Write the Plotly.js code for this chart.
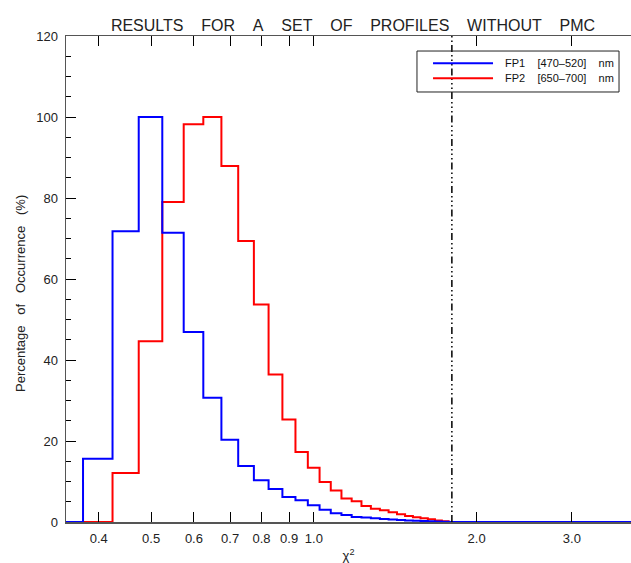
<!DOCTYPE html>
<html>
<head>
<meta charset="utf-8">
<script src="https://cdn.plot.ly/plotly-3.0.1.min.js"></script>
<style>html,body{margin:0;padding:0;background:#fff;}#chart{width:631px;height:563px;}</style>
</head>
<body>
<div id="chart"></div>
<script>
// Bin centres of the chi-square histogram (bin width 0.05)
const chi2 = [0.30, 0.35, 0.40, 0.45, 0.50, 0.55, 0.60, 0.65, 0.70, 0.75, 0.80, 0.85, 0.90, 0.95,
              1.00, 1.05, 1.10, 1.15, 1.20, 1.25, 1.30, 1.35, 1.40, 1.45, 1.50, 1.55, 1.60, 1.65,
              1.70, 1.75, 1.80, 1.85, 4.00];
// FP1 [470-520] nm occurrence (%)
const fp1 = [0, 0, 15.6, 71.8, 100, 71.4, 46.9, 30.7, 20.3, 13.8, 10.3, 8.15, 6.2, 5.36,
             4.12, 3.05, 2.15, 1.73, 1.24, 1.1, 0.9, 0.75, 0.6, 0.5, 0.4, 0.3, 0.25, 0.2,
             0.1, 0.05, 0, 0, 0];
// FP2 [650-700] nm occurrence (%)
const fp2 = [0, 0, 0, 12.1, 44.6, 79.0, 98.2, 100, 87.9, 69.4, 53.7, 36.4, 25.3, 17.3,
             13.4, 9.9, 7.8, 5.8, 5.1, 3.96, 3.3, 2.9, 2.4, 1.9, 1.5, 1.2, 0.9, 0.7,
             0.4, 0.2, 0];
const thresholdX = [1.8, 1.8];
const thresholdY = [0, 120];
const seriesNames = ['FP1\u00a0\u00a0\u00a0\u00a0[470\u2013520]\u00a0\u00a0\u00a0\u00a0nm',
                     'FP2\u00a0\u00a0\u00a0\u00a0[650\u2013700]\u00a0\u00a0\u00a0\u00a0nm'];
const seriesColors = ['#0000ff', '#ff0000'];
const xTickVals = [0.4, 0.5, 0.6, 0.7, 0.8, 0.9, 1.0, 2.0, 3.0];
const xTickText = ['0.4', '0.5', '0.6', '0.7', '0.8', '0.9', '1.0', '2.0', '3.0'];

const S = '\u00a0\u00a0\u00a0\u00a0';
const font = 'Liberation Sans, Arial, sans-serif';

const traces = [
  {x: chi2.slice(0, fp2.length), y: fp2, type: 'scatter', mode: 'lines', name: seriesNames[1],
   line: {color: seriesColors[1], width: 2, shape: 'hvh'}, showlegend: false},
  {x: chi2, y: fp1, type: 'scatter', mode: 'lines', name: seriesNames[0],
   line: {color: seriesColors[0], width: 2, shape: 'hvh'}, showlegend: false},
  {x: thresholdX, y: thresholdY, type: 'scatter', mode: 'lines', showlegend: false,
   line: {color: '#000', width: 1.5, dash: '7px,3px,1.5px,3px,1.5px,3px,1.5px,3px'}, hoverinfo: 'skip'}
];

// custom legend box (paper coordinates) mimicking the original
const L = {x0: 0.6212, x1: 0.9788, y0: 0.8848, y1: 0.9691};
const rows = [0.9438, 0.9130];
const shapes = [
  {type: 'rect', xref: 'paper', yref: 'paper', x0: L.x0, x1: L.x1, y0: L.y0, y1: L.y1,
   line: {color: '#222', width: 1}, fillcolor: 'rgba(0,0,0,0)'},
  {type: 'line', xref: 'paper', yref: 'paper', x0: 0.6496, x1: 0.7558, y0: rows[0], y1: rows[0],
   line: {color: seriesColors[0], width: 2}},
  {type: 'line', xref: 'paper', yref: 'paper', x0: 0.6496, x1: 0.7558, y0: rows[1], y1: rows[1],
   line: {color: seriesColors[1], width: 2}}
];
const annotations = [
  {xref: 'paper', yref: 'paper', x: 0.7735, y: rows[0], xanchor: 'left', yanchor: 'middle',
   text: seriesNames[0], showarrow: false, font: {family: font, size: 11, color: '#111'}},
  {xref: 'paper', yref: 'paper', x: 0.7735, y: rows[1], xanchor: 'left', yanchor: 'middle',
   text: seriesNames[1], showarrow: false, font: {family: font, size: 11, color: '#111'}},
  // y-axis title, placed like the original (slightly below the plot centre)
  {xref: 'paper', yref: 'paper', x: (20 - 66) / 565, y: (522 - 294) / 486,
   xanchor: 'center', yanchor: 'middle', textangle: -90, showarrow: false,
   text: ['Percentage','of','Occurrence','(%)'].join('\u00a0\u00a0\u00a0'),
   font: {family: font, size: 13, color: '#222'}}
];

const layout = {
  width: 631, height: 563,
  margin: {l: 66, r: 0, t: 36, b: 41, pad: 0},
  paper_bgcolor: '#fff', plot_bgcolor: '#fff',
  font: {family: font, size: 13, color: '#222'},
  title: {text: ['RESULTS','FOR','A','SET','OF','PROFILES','WITHOUT','PMC'].join(S),
          font: {family: font, size: 16, color: '#222'},
          x: 353 / 631, xanchor: 'center', xref: 'container', y: 1 - 25 / 563, yanchor: 'middle'},
  xaxis: {
    type: 'log', range: [Math.log10(0.348), Math.log10(3.86)],
    tickmode: 'array', tickvals: xTickVals, ticktext: xTickText,
    ticks: 'inside', ticklen: 10, tickwidth: 1, tickcolor: '#000',
    showline: true, linecolor: '#555', linewidth: 1.5, mirror: 'ticks',
    showgrid: false, zeroline: false, ticklabelstandoff: 4,
    tickfont: {family: font, size: 13, color: '#222'},
    title: {text: '\u03c7<sup>2</sup>', font: {family: font, size: 13, color: '#222'}, standoff: 9},
    automargin: false
  },
  yaxis: {
    range: [0, 120], tickmode: 'linear', tick0: 0, dtick: 20,
    ticks: 'inside', ticklen: 10, tickwidth: 1, tickcolor: '#000',
    minor: {dtick: 5, ticks: 'inside', ticklen: 5, tickcolor: '#000', tickwidth: 1},
    showline: true, linecolor: '#555', linewidth: 1.5, mirror: false,
    showgrid: false, zeroline: false, ticklabelstandoff: 4,
    tickfont: {family: font, size: 13, color: '#222'},
    automargin: false
  },
  shapes: shapes,
  annotations: annotations,
  showlegend: false
};

Plotly.newPlot('chart', traces, layout, {displayModeBar: false, staticPlot: true});
</script>
</body>
</html>
